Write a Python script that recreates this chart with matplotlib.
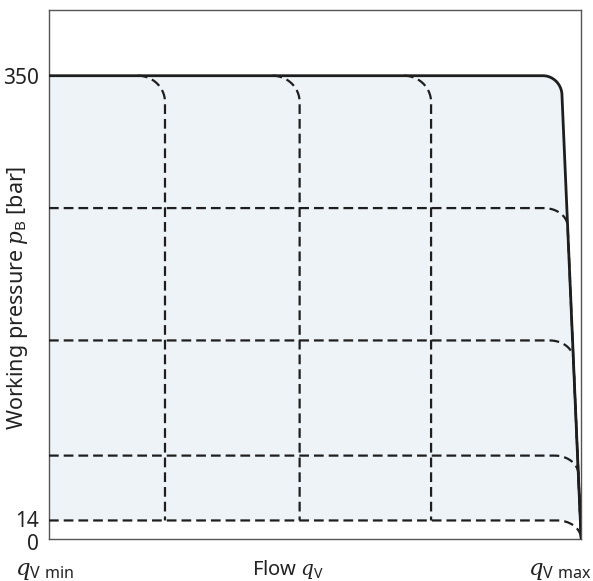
import numpy as np
import matplotlib
matplotlib.use('Agg')
from matplotlib import pyplot as plt
from matplotlib.transforms import ScaledTranslation

# pressure levels [bar] and flow settings (fraction of q_V max)
p_max = 350
p_min = 14
p_levels = [250, 150, 63, 14]
q_settings = [0.218, 0.471, 0.718]
q_corner = 0.928        # where the max-pressure line starts to bend
q_knee = 0.964          # end of the bend on the cut-off slope
p_knee = 335

plt.rcParams['font.family'] = ['Noto Sans', 'DejaVu Sans']
plt.rcParams['mathtext.fontset'] = 'custom'
plt.rcParams['mathtext.rm'] = 'Noto Sans'
plt.rcParams['mathtext.it'] = 'DejaVu Serif:italic'
plt.rcParams['lines.scale_dashes'] = False

ink = '#1e1e1e'
dash = (0, (7, 3.6))


def slope_q(p):
    # cut-off line from the knee down to (1, 0)
    return 1.0 - (1.0 - q_knee) * p / p_knee


def arc(cx, cy, rx, ry, t0, t1, n=30):
    t = np.linspace(t0, t1, n)
    return cx + rx * np.cos(t), cy + ry * np.sin(t)


fig = plt.figure(figsize=(5.93, 5.81), dpi=100)
ax = fig.add_axes([0.0826, 0.0723, 0.8974, 0.9113])
ax.set_xlim(0, 1)
ax.set_ylim(0, 400)

# max pressure curve (solid)
ry0 = p_max - p_knee
ax_, ay_ = arc(q_corner, p_knee, q_knee - q_corner, ry0, np.pi / 2, 0)
sx = np.concatenate([[0], ax_, [1.0]])
sy = np.concatenate([[p_max], ay_, [0]])

# shaded working area between min pressure and the solid curve
keep = sy >= p_min
fx = np.concatenate([sx[keep], [slope_q(p_min), 0]])
fy = np.concatenate([sy[keep], [p_min, p_min]])
ax.fill(fx, fy, color='#eef3f7', lw=0, zorder=1)

# pressure-controller curves (horizontal dashed)
for p in p_levels:
    ry = min(14, p)
    pe = p - ry
    qe = slope_q(pe)
    rx = 0.045
    cx_, cy_ = arc(qe - rx, pe, rx, ry, np.pi / 2, 0)
    x = np.concatenate([[0], cx_, [1.0]])
    y = np.concatenate([[p], cy_, [0]])
    ax.plot(x, y, color=ink, lw=1.6, linestyle=dash, zorder=3)

# flow-controller curves (vertical dashed)
for q in q_settings:
    rx, ry = 0.051, 20
    cx_, cy_ = arc(q - rx, p_max - ry, rx, ry, np.pi / 2, 0)
    x = np.concatenate([cx_, [q]])
    y = np.concatenate([cy_, [p_min]])
    ax.plot(x, y, color=ink, lw=1.6, linestyle=dash, zorder=3)

ax.plot(sx, sy, color=ink, lw=2.0, zorder=4, solid_capstyle='round')

for s in ax.spines.values():
    s.set_color('#555555')
    s.set_linewidth(1.0)

ax.set_xticks([])
ax.set_yticks([0, p_min, p_max])
ax.set_yticklabels(['0', '14', '350'])
ax.tick_params(axis='y', length=0, pad=7, labelsize=15, colors='#222222')
# nudge "0" down and "14" up a little so they don't collide
lbls = ax.get_yticklabels()
lbls[0].set_transform(lbls[0].get_transform() + ScaledTranslation(0, -0.035, fig.dpi_scale_trans))
lbls[1].set_transform(lbls[1].get_transform() + ScaledTranslation(0, 0.01, fig.dpi_scale_trans))

ax.set_ylabel(r'Working pressure $p_{\mathrm{B}}$ [bar]', fontsize=15.5,
              color='#222222')
ax.yaxis.set_label_coords(-0.036, 0.455)

fig.text(0.025, 0.019, r'$q_{\mathrm{V\ min}}$', fontsize=16.5, ha='left', va='center', color='#222222')
fig.text(0.486, 0.019, r'Flow $q_{\mathrm{V}}$', fontsize=14.5, ha='center', va='center', color='#222222')
fig.text(0.997, 0.019, r'$q_{\mathrm{V\ max}}$', fontsize=16.5, ha='right', va='center', color='#222222')

fig.savefig('out.png', dpi=100)
